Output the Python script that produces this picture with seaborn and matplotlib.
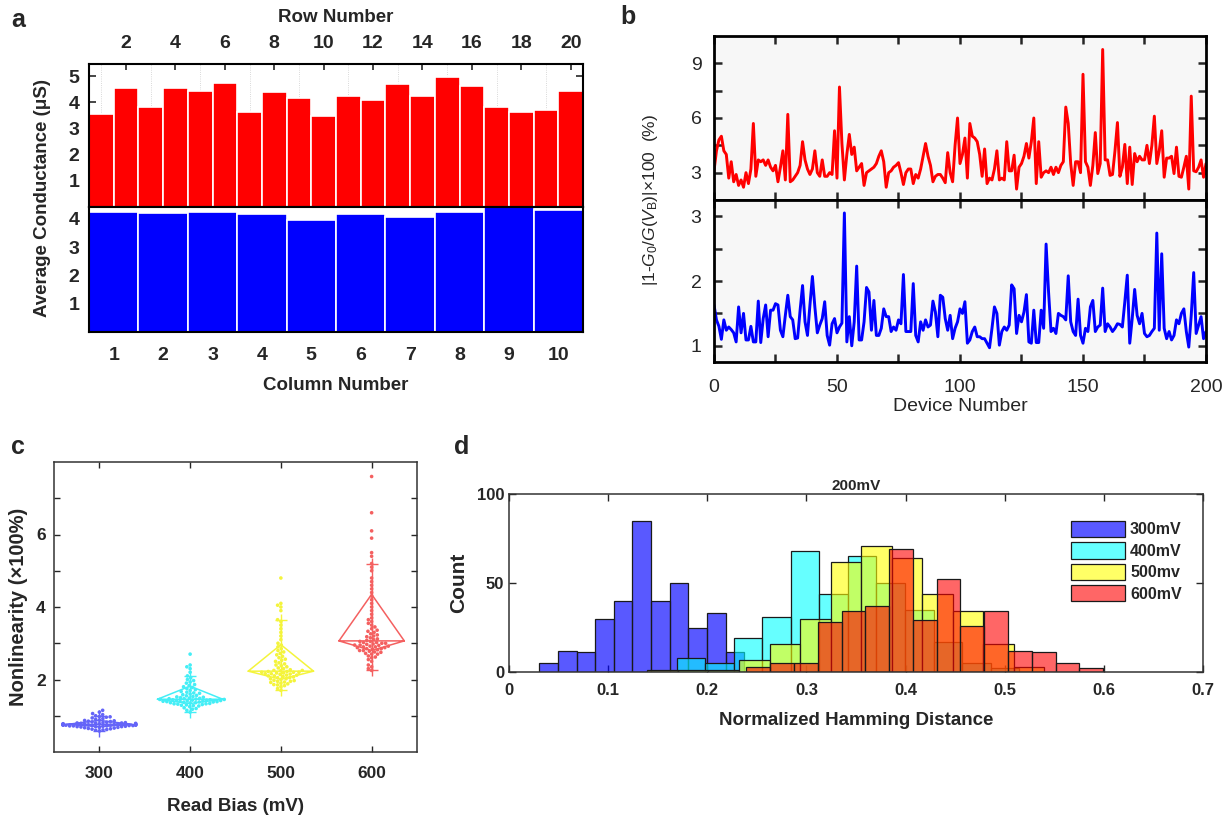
"""
Four-panel device characterisation figure (conductance map, drift, nonlinearity, Hamming distance).
"""

import warnings
import numpy as np
import pandas as pd
import matplotlib
matplotlib.use("Agg")  # Non-interactive backend
import matplotlib.pyplot as plt
from matplotlib.ticker import MultipleLocator, FixedLocator
import seaborn as sns

warnings.filterwarnings("ignore", category=UserWarning)

# ---------------- panel a: average conductance ----------------
rows = list(range(1, 21))
row_conductance = [3.57, 4.56, 3.83, 4.56, 4.43, 4.73, 3.65, 4.41, 4.18, 3.50,
                   4.23, 4.09, 4.72, 4.25, 4.96, 4.64, 3.82, 3.62, 3.70, 4.45]
cols = list(range(1, 11))
col_conductance = [4.25, 4.20, 4.26, 4.19, 3.95, 4.16, 4.08, 4.24, 4.41, 4.32]

# ---------------- panel b: |1-G0/G(VB)| per device ----------------
devices = list(range(0, 201))
dev_red = [
    3.1, 4.2, 4.8, 5.0, 4.2, 4.0, 2.7, 3.6, 2.5, 2.9,
    2.3, 2.6, 2.2, 3.0, 2.4, 3.2, 5.7, 2.8, 3.7, 3.6,
    3.7, 3.4, 3.7, 3.3, 3.1, 3.4, 2.5, 3.3, 4.2, 2.6,
    6.2, 2.5, 2.6, 2.8, 3.0, 3.4, 4.7, 3.7, 3.2, 2.9,
    3.2, 4.2, 3.0, 2.8, 3.7, 2.8, 2.8, 3.0, 2.9, 5.3,
    2.7, 7.7, 4.6, 2.6, 4.0, 5.1, 4.0, 4.4, 3.1, 3.3,
    3.5, 2.3, 3.0, 3.1, 3.2, 3.3, 3.5, 3.9, 4.2, 3.6,
    2.2, 3.0, 3.1, 3.3, 3.4, 3.55, 3.0, 2.35, 3.0, 3.2,
    3.2, 2.4, 2.9, 2.7, 3.2, 3.9, 4.6, 3.9, 3.4, 2.5,
    2.8, 2.9, 2.9, 2.7, 2.45, 4.1, 3.0, 2.5, 4.5, 6.0,
    3.5, 4.0, 4.9, 2.7, 5.7, 5.0, 4.9, 4.7, 4.0, 2.8,
    4.3, 2.4, 2.7, 2.6, 3.2, 4.2, 2.6, 2.7, 2.6, 4.7,
    3.1, 3.1, 3.96, 2.1, 3.3, 3.5, 3.9, 4.6, 3.8, 4.7,
    6.0, 2.4, 4.7, 2.75, 3.0, 3.1, 3.0, 3.3, 2.9, 3.3,
    3.0, 3.4, 3.6, 6.6, 5.7, 3.5, 2.3, 3.6, 3.6, 3.0,
    8.4, 3.6, 3.3, 2.3, 3.4, 5.2, 2.95, 3.5, 9.76, 3.7,
    3.7, 2.85, 2.9, 4.2, 5.75, 2.8, 3.3, 4.55, 2.4, 4.4,
    2.35, 4.05, 3.6, 3.9, 3.7, 3.7, 4.5, 3.5, 4.5, 6.1,
    3.5, 4.2, 5.3, 2.75, 3.8, 3.8, 3.9, 2.95, 4.4, 2.8,
    2.75, 3.3, 3.9, 2.1, 7.2, 3.1, 3.05, 3.3, 3.7, 2.75,
    3.5,
]
dev_blue = [
    1.63, 1.4, 1.3, 1.1, 1.4, 1.24, 1.29, 1.25, 1.2, 1.06,
    1.6, 1.2, 1.5, 1.09, 1.09, 1.3, 1.06, 1.06, 1.69, 1.05,
    1.42, 1.63, 1.14, 1.55, 1.55, 1.65, 1.63, 1.24, 1.14, 1.47,
    1.78, 1.45, 1.4, 1.11, 1.12, 1.55, 1.93, 1.37, 1.16, 1.63,
    2.07, 1.6, 1.2, 1.32, 1.42, 1.68, 1.16, 1.01, 1.34, 1.42,
    1.2, 1.29, 1.35, 3.05, 1.06, 1.45, 1.0, 1.37, 2.23, 1.09,
    1.09, 1.37, 1.9, 1.83, 1.24, 1.7, 1.16, 1.16, 1.27, 1.57,
    1.45, 1.45, 1.22, 1.29, 1.24, 1.4, 1.34, 2.1, 1.22, 1.22,
    1.22, 1.96, 1.16, 1.06, 1.37, 1.24, 1.4, 1.29, 1.32, 1.69,
    1.52, 1.14, 1.78, 1.75, 1.42, 1.24, 1.47, 1.11, 1.27, 1.37,
    1.57, 1.5, 1.68, 1.04, 1.09, 1.22, 1.29, 1.14, 1.14, 1.11,
    1.11, 1.04, 0.97, 1.27, 1.6, 1.5, 1.01, 1.22, 1.29, 1.24,
    1.32, 1.94, 1.88, 1.19, 1.47, 1.37, 1.52, 1.79, 1.06, 1.04,
    1.55, 1.05, 1.05, 1.55, 1.27, 2.57, 1.83, 1.22, 1.27, 1.19,
    1.5, 1.47, 1.45, 1.4, 2.08, 1.37, 1.22, 1.16, 1.72, 1.16,
    1.04, 1.27, 1.22, 1.6, 1.7, 1.22, 1.29, 1.32, 1.89, 1.22,
    1.34, 1.29, 1.22, 1.27, 1.34, 1.33, 1.29, 1.68, 2.09, 1.04,
    1.42, 1.87, 1.47, 1.34, 1.5, 1.19, 1.14, 1.16, 1.22, 1.27,
    2.74, 1.24, 2.42, 1.27, 1.11, 1.22, 1.09, 1.16, 1.4, 1.34,
    1.5, 1.57, 1.22, 0.98, 1.47, 2.13, 1.19, 1.32, 1.45, 1.11,
    1.22,
]

# ---------------- panel c: nonlinearity vs read bias ----------------
bias_levels = ["300", "400", "500", "600"]
nl_300 = [0.58, 0.60, 0.62, 0.63, 0.65, 0.66, 0.67, 0.68, 0.68, 0.69,
          0.70, 0.70, 0.71, 0.71, 0.72, 0.72, 0.73, 0.73, 0.73, 0.74,
          0.74, 0.74, 0.75, 0.75, 0.75, 0.75, 0.76, 0.76, 0.76, 0.77,
          0.77, 0.77, 0.78, 0.78, 0.79, 0.79, 0.80, 0.80, 0.81, 0.81,
          0.82, 0.83, 0.84, 0.85, 0.86, 0.87, 0.88, 0.90, 0.92, 0.94,
          0.96, 0.98, 1.00, 1.03, 1.06, 1.10, 1.15, 0.61, 0.64, 0.78,
          0.72, 0.76, 0.70, 0.74, 0.80, 0.97]
nl_400 = [1.10, 1.15, 1.18, 1.20, 1.22, 1.25, 1.27, 1.28, 1.30, 1.31,
          1.32, 1.33, 1.35, 1.36, 1.37, 1.38, 1.39, 1.40, 1.41, 1.42,
          1.43, 1.44, 1.45, 1.45, 1.46, 1.47, 1.48, 1.49, 1.50, 1.51,
          1.52, 1.53, 1.55, 1.56, 1.58, 1.60, 1.62, 1.63, 1.65, 1.67,
          1.70, 1.72, 1.75, 1.78, 1.80, 1.83, 1.86, 1.90, 1.93, 1.97,
          2.00, 2.05, 2.10, 2.20, 2.30, 2.35, 2.40, 2.70, 1.44, 1.40,
          1.47, 1.36, 1.42, 1.33, 1.38, 1.41, 1.29, 1.34, 1.43, 1.39]
nl_500 = [1.70, 1.75, 1.80, 1.83, 1.86, 1.88, 1.90, 1.93, 1.95, 1.97,
          2.00, 2.02, 2.05, 2.07, 2.10, 2.12, 2.14, 2.16, 2.18, 2.20,
          2.20, 2.22, 2.24, 2.25, 2.27, 2.30, 2.32, 2.35, 2.38, 2.40,
          2.43, 2.46, 2.50, 2.53, 2.56, 2.60, 2.64, 2.68, 2.72, 2.76,
          2.80, 2.85, 2.90, 2.95, 3.00, 3.10, 3.20, 3.30, 3.40, 3.50,
          3.60, 3.65, 3.90, 4.00, 4.05, 4.10, 4.80, 2.15, 2.25, 2.10,
          2.20, 1.95, 2.05, 1.98, 2.18, 2.12, 1.92, 2.08, 2.22, 2.02,
          2.16, 1.85]
nl_600 = [2.25, 2.30, 2.35, 2.40, 2.50, 2.55, 2.60, 2.65, 2.70, 2.72,
          2.75, 2.78, 2.80, 2.82, 2.85, 2.88, 2.90, 2.92, 2.95, 2.97,
          3.00, 3.02, 3.05, 3.05, 3.08, 3.10, 3.12, 3.15, 3.18, 3.20,
          3.23, 3.26, 3.30, 3.33, 3.36, 3.40, 3.45, 3.50, 3.55, 3.60,
          3.65, 3.70, 3.80, 3.90, 4.00, 4.10, 4.20, 4.30, 4.40, 4.50,
          4.60, 4.70, 4.80, 5.00, 5.10, 5.20, 5.40, 5.50, 5.90, 6.10,
          6.60, 7.60, 2.95, 3.00, 2.90, 2.85, 2.98, 2.92, 2.70, 2.88,
          2.80, 3.02, 2.76, 2.94, 2.62, 2.84]

# ---------------- panel d: Hamming distance histograms ----------------
hd_labels = ["300mV", "400mV", "500mv", "600mV"]
hd_bin_start = [0.0305, 0.1690, 0.1396, 0.2394]
hd_bin_width = [0.0188, 0.0288, 0.0308, 0.0240]
hd_counts_300 = [5, 12, 11, 30, 40, 85, 40, 50, 25, 33, 11]
hd_counts_400 = [8, 5, 19, 31, 68, 44, 65, 50, 35, 17, 5, 2]
hd_counts_500 = [1, 1, 1, 7, 16, 30, 62, 71, 64, 44, 34, 16, 3]
hd_counts_600 = [3, 5, 5, 28, 34, 37, 69, 29, 52, 26, 34, 12, 11, 5, 2]

# ------------------------------------------------------------------
sns.set_theme(style="ticks")
plt.rcParams.update({
    "font.family": ["Liberation Sans", "DejaVu Sans"],
    "mathtext.fontset": "custom",
    "mathtext.rm": "Liberation Sans",
    "mathtext.it": "Liberation Sans:italic",
    "xtick.direction": "in",
    "ytick.direction": "in",
    "axes.edgecolor": "black",
    "axes.linewidth": 1.5,
})

W, H = 1231, 823
fig = plt.figure(figsize=(W / 100, H / 100), dpi=100)


def px_axes(x0, y0, x1, y1):
    """Axes from pixel box (left, top, right, bottom)."""
    return fig.add_axes([x0 / W, 1 - y1 / H, (x1 - x0) / W, (y1 - y0) / H])


def style_ticks(ax, size, weight="bold"):
    for lab in ax.get_xticklabels() + ax.get_yticklabels():
        lab.set_fontsize(size)
        lab.set_fontweight(weight)


# ===== panel a =====
ax_r = px_axes(89, 64, 583, 207)
ax_c = px_axes(89, 207, 583, 332)

for x in range(1, 20, 2):
    ax_r.axvline(x, color="#cccccc", lw=0.6, ls=":", zorder=0)
sns.barplot(x=rows, y=row_conductance, native_scale=True, width=1, color="#ff0000",
            saturation=1, edgecolor="white", linewidth=1.2, ax=ax_r, zorder=2)
ax_r.set_xlim(0.5, 20.5)
ax_r.set_ylim(0, 5.47)
ax_r.xaxis.tick_top()
ax_r.xaxis.set_label_position("top")
ax_r.set_xticks(range(2, 21, 2))
ax_r.set_xlabel("Row Number", fontsize=13.5, fontweight="bold", labelpad=9)
ax_r.set_yticks([1, 2, 3, 4, 5])
ax_r.set_ylabel("")
ax_r.tick_params(axis="y", right=True, length=5, width=1.2, pad=7)
ax_r.tick_params(axis="x", length=4, width=1.2, pad=9)
style_ticks(ax_r, 14)

sns.barplot(x=cols, y=col_conductance, native_scale=True, width=1, color="#0000ff",
            saturation=1, edgecolor="white", linewidth=1.2, ax=ax_c)
ax_c.set_xlim(0.5, 10.5)
ax_c.set_ylim(0, 4.42)
ax_c.set_xticks(cols)
ax_c.set_yticks([1, 2, 3, 4])
ax_c.set_ylabel("")
ax_c.set_xlabel("Column Number", fontsize=13.5, fontweight="bold", labelpad=9)
ax_c.tick_params(axis="y", right=True, length=5, width=1.2, pad=7)
ax_c.tick_params(axis="x", length=5, width=1.2, pad=11)
style_ticks(ax_c, 14)
fig.text(43 / W, 1 - 198 / H, "Average Conductance (μS)", rotation=90,
         ha="center", va="center", fontsize=13.5, fontweight="bold")

# ===== panel b =====
ax_bt = px_axes(714, 36, 1206, 200)
ax_bb = px_axes(714, 200, 1206, 362)
for ax in (ax_bt, ax_bb):
    ax.set_facecolor("#f7f7f7")
    for sp in ax.spines.values():
        sp.set_linewidth(2)
sns.lineplot(x=devices, y=dev_red, color="#ff0000", lw=2.1, ax=ax_bt)
sns.lineplot(x=devices, y=dev_blue, color="#0000ff", lw=2.1, ax=ax_bb)

ax_bt.set_ylim(1.5, 10.5)
ax_bt.yaxis.set_major_locator(FixedLocator([3, 6, 9]))
ax_bt.yaxis.set_minor_locator(FixedLocator([4.5, 7.5]))
ax_bb.set_ylim(0.75, 3.25)
ax_bb.yaxis.set_major_locator(FixedLocator([1, 2, 3]))
ax_bb.yaxis.set_minor_locator(FixedLocator([1.5, 2.5]))
for ax in (ax_bt, ax_bb):
    ax.set_xlim(0, 200)
    ax.xaxis.set_major_locator(MultipleLocator(50))
    ax.xaxis.set_minor_locator(MultipleLocator(25))
    ax.tick_params(which="both", top=True, right=True, length=6, width=1.8)
    ax.tick_params(axis="y", pad=9)
    ax.set_ylabel("")
ax_bt.tick_params(axis="x", labelbottom=False)
ax_bb.tick_params(axis="x", pad=12)
ax_bb.set_xlabel("Device Number", fontsize=14, labelpad=2)
style_ticks(ax_bt, 14, "normal")
style_ticks(ax_bb, 14, "normal")
fig.text(651 / W, 1 - 200 / H, r"|1-$G_0$/$G$($V_\mathrm{B}$)|×100  (%)",
         rotation=90, ha="center", va="center", fontsize=12.5)

# ===== panel c =====
ax_nl = px_axes(54, 462, 417, 752)
nl_groups = [nl_300, nl_400, nl_500, nl_600]
nl_colors = ["#6464f8", "#44eef6", "#f4f43c", "#f46060"]
df_nl = pd.DataFrame({
    "bias": np.repeat(bias_levels, [len(g) for g in nl_groups]),
    "nl": np.concatenate(nl_groups),
})
sns.swarmplot(data=df_nl, x="bias", y="nl", hue="bias", palette=nl_colors,
              size=2.6, legend=False, ax=ax_nl)
for i, (vals, col) in enumerate(zip(nl_groups, nl_colors)):
    q1, med, q3 = np.percentile(vals, [25, 50, 75])
    lo, hi = np.percentile(vals, [20, 82])
    iqr = q3 - q1
    v = np.array(vals)
    w_lo = v[v >= q1 - 1.5 * iqr].min()
    w_hi = v[v <= q3 + 1.5 * iqr].max()
    hw = 0.36
    ax_nl.plot([i - hw, i, i + hw, i, i - hw, i + hw],
               [med, hi, med, lo, med, med], color=col, lw=1.1, zorder=3)
    ax_nl.plot([i, i], [w_lo, w_hi], color=col, lw=1.0, marker="+", ms=8, zorder=3)
ax_nl.set_xlim(-0.5, 3.5)
ax_nl.set_ylim(0, 8)
ax_nl.yaxis.set_major_locator(FixedLocator([2, 4, 6]))
ax_nl.yaxis.set_minor_locator(FixedLocator([1, 3, 5, 7]))
ax_nl.tick_params(which="both", top=True, right=True, length=4, width=1)
for sp in ax_nl.spines.values():
    sp.set_linewidth(1.1)
    sp.set_color("#333333")
ax_nl.set_xlabel("Read Bias (mV)", fontsize=13.5, fontweight="bold", labelpad=12)
ax_nl.set_ylabel("Nonlinearity (×100%)", fontsize=14.5, fontweight="bold", labelpad=6)
ax_nl.tick_params(axis="x", pad=10)
ax_nl.tick_params(axis="y", pad=6)
style_ticks(ax_nl, 12.5)

# ===== panel d =====
ax_hd = px_axes(509, 494, 1203, 672)
hd_counts = [hd_counts_300, hd_counts_400, hd_counts_500, hd_counts_600]
hd_colors = ["#0000ff", "#00ffff", "#ffff00", "#ff0000"]
hd_alpha = [0.65, 0.6, 0.6, 0.6]
for start, width, counts, col, a, lab in zip(hd_bin_start, hd_bin_width, hd_counts,
                                             hd_colors, hd_alpha, hd_labels):
    edges = start + width * np.arange(len(counts) + 1)
    df_hd = pd.DataFrame({"hd": (edges[:-1] + edges[1:]) / 2, "n": counts})
    sns.histplot(data=df_hd, x="hd", weights="n", bins=list(edges), color=col, alpha=a,
                 edgecolor="#1a1a1a", linewidth=0.9, label=lab, ax=ax_hd)
ax_hd.set_xlim(0, 0.7)
ax_hd.set_ylim(0, 100)
ax_hd.xaxis.set_major_locator(MultipleLocator(0.1))
ax_hd.xaxis.set_major_formatter(plt.FuncFormatter(lambda v, p: "0" if abs(v) < 1e-9 else f"{v:.1f}"))
ax_hd.yaxis.set_major_locator(MultipleLocator(50))
ax_hd.tick_params(which="both", top=True, right=True, length=5, width=1)
for sp in ax_hd.spines.values():
    sp.set_linewidth(1.1)
    sp.set_color("#333333")
ax_hd.set_title("200mV", fontsize=11, fontweight="bold", pad=3)
ax_hd.set_xlabel("Normalized Hamming Distance", fontsize=13.5, fontweight="bold", labelpad=10)
ax_hd.set_ylabel("Count", fontsize=15, fontweight="bold", labelpad=6)
ax_hd.tick_params(axis="x", pad=8)
style_ticks(ax_hd, 12)
ax_hd.legend(loc="upper right", bbox_to_anchor=(0.99, 0.93), frameon=False,
             handlelength=3.4, handleheight=1.2, labelspacing=0.3, handletextpad=0.3,
             prop={"weight": "bold", "size": 11.5})

# panel letters
for letter, (x, y) in {"a": (18, 20), "b": (628, 17), "c": (18, 447), "d": (462, 447)}.items():
    fig.text(x / W, 1 - y / H, letter, fontsize=18, fontweight="bold",
             ha="center", va="center")

fig.savefig("out.png", dpi=100)
plt.close(fig)
